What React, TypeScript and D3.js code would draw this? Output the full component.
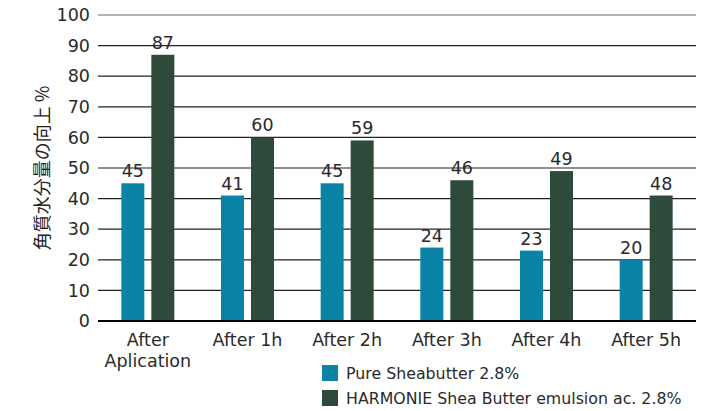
import React from "react";
import * as d3 from "d3";

const categories = ["After\nAplication", "After 1h", "After 2h", "After 3h", "After 4h", "After 5h"];
const seriesNames = ["Pure Sheabutter 2.8%", "HARMONIE Shea Butter emulsion ac. 2.8%"];
const pureValues = [45, 41, 45, 24, 23, 20];
const harmonieValues = [87, 60, 59, 46, 49, 41];
const pureLabels = ["45", "41", "45", "24", "23", "20"];
const harmonieLabels = ["87", "60", "59", "46", "49", "48"];
const yTicks = [0, 10, 20, 30, 40, 50, 60, 70, 80, 90, 100];
const yTitle = "角質水分量の向上 %";

const colors = ["#0a83a6", "#2e4a3a"];
const FONT = "'DejaVu Sans', sans-serif";

export default function App() {
  const W = 728, H = 411;
  const left = 98, right = 696, top = 15, bottom = 321;
  const x = d3.scaleBand<string>().domain(categories).range([left, right]).paddingInner(0).paddingOuter(0);
  const y = d3.scaleLinear().domain([0, 100]).range([bottom, top]);
  const barW = 23, gap = 7;
  const series = [
    { values: pureValues, labels: pureLabels },
    { values: harmonieValues, labels: harmonieLabels },
  ];
  return (
    <svg width={W} height={H} style={{ position: "absolute", left: 0, top: 0, background: "#fff" }} fontFamily={FONT}>
      {yTicks.map((t) => (
        <g key={t}>
          {t > 0 && <line x1={left} x2={right} y1={y(t)} y2={y(t)} stroke={t === 100 ? "#666" : "#222"} strokeWidth={1.2} />}
          <text x={90} y={y(t)} dy="0.35em" textAnchor="end" fontSize={17.5} fill="#2a2a2a">{t}</text>
        </g>
      ))}
      {series.map((s, si) =>
        categories.map((c, i) => {
          const cx = (x(c) as number) + x.bandwidth() / 2;
          const bx = si === 0 ? cx - gap / 2 - barW : cx + gap / 2;
          const v = s.values[i];
          return (
            <g key={si + "-" + i}>
              <rect x={bx} y={y(v)} width={barW} height={bottom - y(v)} fill={colors[si]} />
              <text x={bx + barW / 2} y={y(v) - 6} textAnchor="middle" fontSize={17.5} fill="#2a2a2a">{s.labels[i]}</text>
            </g>
          );
        })
      )}
      <line x1={left} x2={right} y1={bottom} y2={bottom} stroke="#000" strokeWidth={2.2} />
      {categories.map((c) => {
        const cx = (x(c) as number) + x.bandwidth() / 2;
        return (
          <text key={c} x={cx} y={346} textAnchor="middle" fontSize={17.5} fill="#2a2a2a">
            {c.split("\n").map((line, j) => (
              <tspan key={j} x={cx} dy={j === 0 ? 0 : 21}>{line}</tspan>
            ))}
          </text>
        );
      })}
      <text transform={`translate(43,168) rotate(-90)`} textAnchor="middle" dy="0.35em" fontSize={18} fill="#222"
        fontFamily="'Noto Sans CJK JP', sans-serif">{yTitle}</text>
      {seriesNames.map((n, i) => (
        <g key={n}>
          <rect x={322} y={365 + i * 25} width={16} height={16} fill={colors[i]} />
          <text x={346} y={373 + i * 25} dy="0.35em" fontSize={15.8} fill="#2a2a2a">{n}</text>
        </g>
      ))}
    </svg>
  );
}
